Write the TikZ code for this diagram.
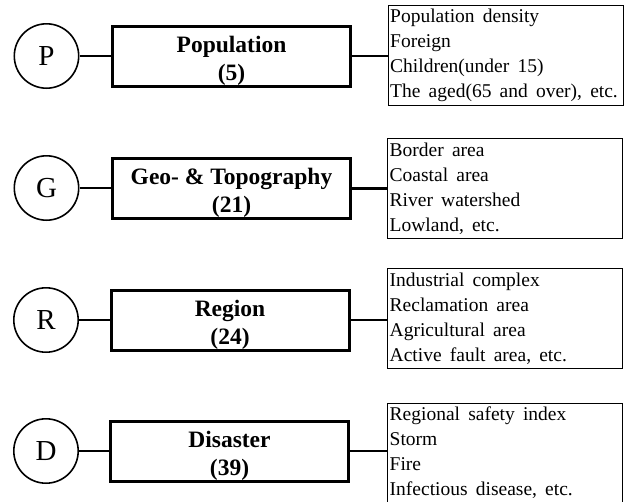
\documentclass[tikz,border=0pt]{standalone}
\usepackage{fontspec}
\setmainfont{Liberation Serif}
\newcommand\detfont{\fontsize{19.5}{25}\selectfont\spaceskip 0.42em\relax}
\newcommand\catstrut{\rule{0pt}{25pt}}
\begin{document}
\begin{tikzpicture}[x=1pt,y=-1pt,
  lbl/.style={circle, draw, line width=1.6pt, minimum size=64.4pt, inner sep=0pt,
    font=\fontsize{29}{29}\selectfont},
  cat/.style={draw, line width=3pt, minimum width=238pt, minimum height=60pt,
    inner sep=0pt, align=center, font=\fontsize{23.5}{28}\selectfont\bfseries},
  detbox/.style={draw, line width=1pt, minimum width=235pt, minimum height=100pt, inner sep=0pt},
  dettext/.style={anchor=west, inner xsep=2.5pt, inner ysep=0pt, align=left, font=\detfont},
  link/.style={line width=2.4pt}]
\useasboundingbox (0,0) rectangle (628,501);

% Row 1
\node[lbl] (c1) at (46.5,56) {P};
\node[cat] (b1) at (231.5,56) {\catstrut Population\\(5)};
\node[detbox] (d1) at (505.5,55.5) {};
\node[dettext] (t1) at (d1.west) {Population density\\Foreign\\Children(under 15)\\The aged(65 and over), etc.};
\draw[link] (c1) -- (b1);
\draw[link] (b1.east) -- (b1.east -| d1.west);

% Row 2
\node[lbl] (c2) at (46.5,188) {G};
\node[cat] (b2) at (231.5,188.5) {\catstrut Geo- \& Topography\\(21)};
\node[detbox] (d2) at (505,188.5) {};
\node[dettext] (t2) at (d2.west) {Border area\\Coastal area\\River watershed\\Lowland, etc.};
\draw[link] (c2) -- (c2 -| b2.west);
\draw[link] (b2.east) -- (b2.east -| d2.west);

% Row 3
\node[lbl] (c3) at (46,320) {R};
\node[cat] (b3) at (230,320) {\catstrut Region\\(24)};
\node[detbox] (d3) at (505,318.5) {};
\node[dettext] (t3) at (d3.west) {Industrial complex\\Reclamation area\\Agricultural area\\Active fault area, etc.};
\draw[link] (c3) -- (b3);
\draw[link] (b3.east) -- (b3.east -| d3.west);

% Row 4
\node[lbl] (c4) at (46,451) {D};
\node[cat] (b4) at (229.5,451) {\catstrut Disaster\\(39)};
\node[detbox] (d4) at (505,453) {};
\node[dettext] (t4) at (d4.west) {Regional safety index\\Storm\\Fire\\Infectious disease, etc.};
\draw[link] (c4) -- (b4);
\draw[link] (b4.east) -- (b4.east -| d4.west);
\end{tikzpicture}
\end{document}
